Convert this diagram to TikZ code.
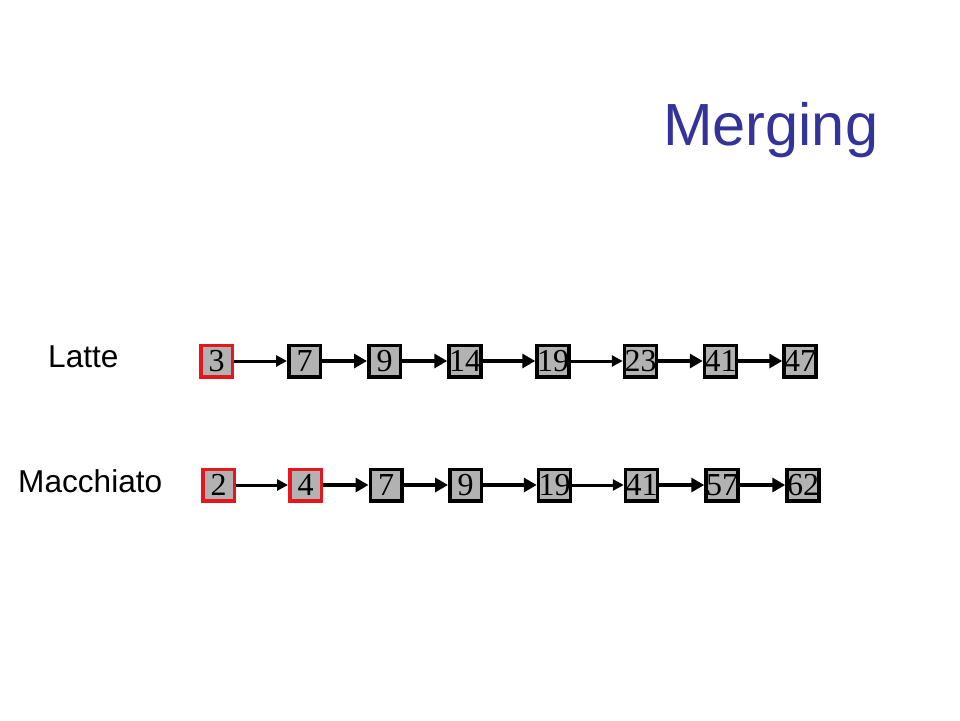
\documentclass[tikz,border=0pt]{standalone}
\usepackage{fontspec}
\setmainfont{Liberation Sans}
\newfontfamily\numfont{Liberation Serif}
\usetikzlibrary{arrows.meta}
\definecolor{boxgray}{RGB}{178,178,178}
\definecolor{hired}{RGB}{228,24,28}
\definecolor{titleblue}{RGB}{51,51,153}
\tikzset{
  cell/.style={draw=black, line width=3.5pt, fill=boxgray, minimum size=31.5pt, inner sep=0pt,
    font=\numfont\fontsize{32}{32}\selectfont},
  redcell/.style={cell, draw=hired},
  thinlink/.style={line width=3pt, -{Triangle[length=11pt,width=11pt]}},
  thicklink/.style={line width=4.2pt, -{Triangle[length=13pt,width=14pt]}},
  lbl/.style={anchor=base west, inner sep=0pt, font=\fontsize{31.6}{36}\selectfont}
}
\begin{document}
\begin{tikzpicture}[x=1pt,y=-1pt]
\useasboundingbox (0,0) rectangle (960,720);
\fill[white] (0,0) rectangle (960,720);
\node[lbl, text=titleblue, font=\fontsize{59.5}{64}\selectfont] (title) at (663,145) {Merging};
\node[lbl] (latte) at (48,367) {Latte};
\node[lbl] (macch) at (18,492) {Macchiato};
% top row
\node[redcell] (a1) at (216.5,361) {3};
\node[cell] (a2) at (304.5,361) {7};
\node[cell] (a3) at (384.5,361) {9};
\node[cell] (a4) at (465,361) {14};
\node[cell] (a5) at (553,361) {19};
\node[cell] (a6) at (640.5,361) {23};
\node[cell] (a7) at (720.5,361) {41};
\node[cell] (a8) at (800,361) {47};
% bottom row
\node[redcell] (b1) at (218.5,485) {2};
\node[redcell] (b2) at (305.5,485) {4};
\node[cell] (b3) at (386,485) {7};
\node[cell] (b4) at (465.5,485) {9};
\node[cell] (b5) at (554.5,485) {19};
\node[cell] (b6) at (641.5,485) {41};
\node[cell] (b7) at (722,485) {57};
\node[cell] (b8) at (803,485) {62};
% links
\draw[thinlink] (a1.east) -- (a2.west);
\draw[thicklink] (a2.east) -- (a3.west);
\draw[thicklink] (a3.east) -- (a4.west);
\draw[thicklink] (a4.east) -- (a5.west);
\draw[thinlink] (a5.east) -- (a6.west);
\draw[thicklink] (a6.east) -- (a7.west);
\draw[thicklink] (a7.east) -- (a8.west);
\draw[thinlink] (b1.east) -- (b2.west);
\draw[thicklink] (b2.east) -- (b3.west);
\draw[thicklink] (b3.east) -- (b4.west);
\draw[thicklink] (b4.east) -- (b5.west);
\draw[thinlink] (b5.east) -- (b6.west);
\draw[thicklink] (b6.east) -- (b7.west);
\draw[thicklink] (b7.east) -- (b8.west);
\end{tikzpicture}
\end{document}
